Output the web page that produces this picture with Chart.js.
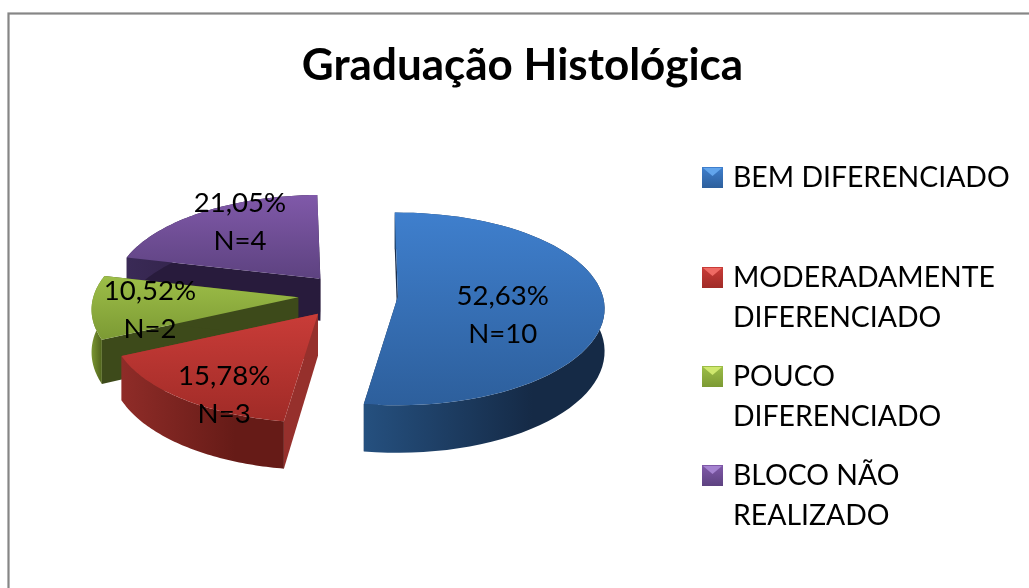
<!DOCTYPE html>
<html><head><meta charset="utf-8">
<style>html,body{margin:0;padding:0;background:#fff}canvas{display:block}</style>
<script src="https://cdn.jsdelivr.net/npm/chart.js@4"></script>
</head><body>
<div style="position:relative;width:1029px;height:588px"><canvas id="c" width="1029" height="588"></canvas></div>
<script>
const categories = ["BEM DIFERENCIADO","MODERADAMENTE DIFERENCIADO","POUCO DIFERENCIADO","BLOCO NÃO REALIZADO"];
const counts = [10,3,2,4];
const percentLabels = ["52,63%","15,78%","10,52%","21,05%"];
const countLabels = ["N=10","N=3","N=2","N=4"];
const legendLines = [["BEM DIFERENCIADO"],["MODERADAMENTE","DIFERENCIADO"],["POUCO","DIFERENCIADO"],["BLOCO NÃO","REALIZADO"]];
const legendY = [177,277,376,475];
const explode = [50,50,50,44];
const topLight = ["#3f7fcd","#c93c38","#9dbe48","#8059a9"];
const topDark  = ["#2d5f9c","#a02b27","#7c9a34","#5d4280"];
const rimLeft  = ["#25507f","#8f2c28","#7a9632","#3a2a56"];
const rimRight = ["#152a46","#661b17","#55691f","#2a1c3e"];
const cutFace  = ["#1b2f4d","#96302c","#3d4a1a","#281b3c"];
const markerLight = ["#62a5ec","#ee6a64","#cfe86e","#a583d0"];
const labelRadius = [0.51,0.71,0.72,0.67];
const labelLift = [15,23,6,-10];
const K = 0.47, A = 0.13, DEPTH = 42;

const pie3d = {
  id:'pie3d',
  beforeDraw(chart){
    const ctx = chart.ctx;
    ctx.save();ctx.fillStyle='#fff';ctx.fillRect(0,0,chart.width,chart.height);
    ctx.strokeStyle='#868686';ctx.lineWidth=2.2;ctx.strokeRect(8.5,13.5,1200,800);ctx.restore();
  },
  afterLayout(chart){ chart.titleBlock.left = 16; chart.titleBlock.right = 1029; },
  beforeDatasetDraw(chart,args){
    const ctx = chart.ctx, arcs = chart.getDatasetMeta(args.index).data;
    const frame = el => {
      const mid=(el.startAngle+el.endAngle)/2, off=el.options.offset, R=el.outerRadius;
      const ax=el.x+Math.cos(mid)*off, ay=el.y+Math.sin(mid)*off*K;
      return {R,ax,ay,mid,p(a,r,d){const X=Math.cos(a)*r,Y=Math.sin(a)*r,f=1+A*Y/R;return [ax+X*f,ay+Y*K*f+d*f];}};
    };
    const poly=(pts,fill)=>{
      ctx.beginPath();pts.forEach((pt,j)=>j?ctx.lineTo(pt[0],pt[1]):ctx.moveTo(pt[0],pt[1]));ctx.closePath();
      ctx.fillStyle=fill;ctx.fill();
    };
    [0,3,2,1].forEach(i=>{
      const el=arcs[i], F=frame(el), n=64, rim=[];
      for(let s=0;s<=n;s++) rim.push(el.startAngle+(el.endAngle-el.startAngle)*s/n);
      const topEdge=rim.map(a=>F.p(a,F.R,0)), lowEdge=rim.map(a=>F.p(a,F.R,DEPTH));
      const xs=topEdge.map(t=>t[0]), x0=Math.min(...xs), x1=Math.max(...xs);
      const rimGrad=ctx.createLinearGradient(x0,0,x0+(x1-x0)*0.7,0);
      rimGrad.addColorStop(0,rimLeft[i]);rimGrad.addColorStop(1,rimRight[i]);
      const apex=F.p(0,0,0),apexB=F.p(0,0,DEPTH);
      poly([apex,topEdge[0],lowEdge[0],apexB],cutFace[i]);
      poly([apex,topEdge[n],lowEdge[n],apexB],cutFace[i]);
      poly([...topEdge,...lowEdge.slice().reverse()],rimGrad);
      const top=[apex,...topEdge], ys=top.map(t=>t[1]);
      const g=ctx.createLinearGradient(0,Math.min(...ys),0,Math.max(...ys));
      g.addColorStop(0,topLight[i]);g.addColorStop(1,topDark[i]);
      poly(top,g);
    });
    ctx.save();ctx.fillStyle='#000';ctx.font='27.6px Lato';ctx.textAlign='center';ctx.textBaseline='middle';
    arcs.forEach((el,i)=>{
      const F=frame(el), pt=F.p(F.mid,F.R*labelRadius[i],0), y=pt[1]+labelLift[i];
      ctx.fillText(percentLabels[i],pt[0],y-19);
      ctx.fillText(countLabels[i],pt[0],y+19);
    });
    ctx.restore();
    ctx.save();ctx.font='28.4px Lato';ctx.textAlign='left';ctx.textBaseline='middle';
    legendLines.forEach((lines,i)=>{
      const y=legendY[i],x=702,s=21,t=y-10;
      const g=ctx.createLinearGradient(0,t,0,t+s);g.addColorStop(0,topLight[i]);g.addColorStop(1,topDark[i]);
      ctx.fillStyle=g;ctx.fillRect(x,t,s,s);
      ctx.fillStyle=markerLight[i];ctx.beginPath();ctx.moveTo(x+1,t+1);ctx.lineTo(x+s-1,t+1);ctx.lineTo(x+s/2,t+9);ctx.closePath();ctx.fill();
      ctx.fillStyle='#000';
      lines.forEach((ln,j)=>ctx.fillText(ln,733,y+1+j*40));
    });
    ctx.restore();
    return false;
  }
};

new Chart(document.getElementById('c'),{
  type:'pie',
  data:{labels:categories,datasets:[{data:counts,backgroundColor:topLight,borderWidth:0,offset:explode}]},
  plugins:[pie3d],
  options:{
    responsive:false,animation:false,rotation:-1,radius:205,
    layout:{padding:{left:0,right:333,top:0,bottom:98}},
    events:[],
    plugins:{
      legend:{display:false},tooltip:{enabled:false},
      title:{display:true,text:"Graduação Histológica",color:'#000',font:{family:'Lato',size:44,weight:'bold',lineHeight:1.2},padding:{top:39,bottom:8}}
    }
  }
});
</script>
</body></html>
